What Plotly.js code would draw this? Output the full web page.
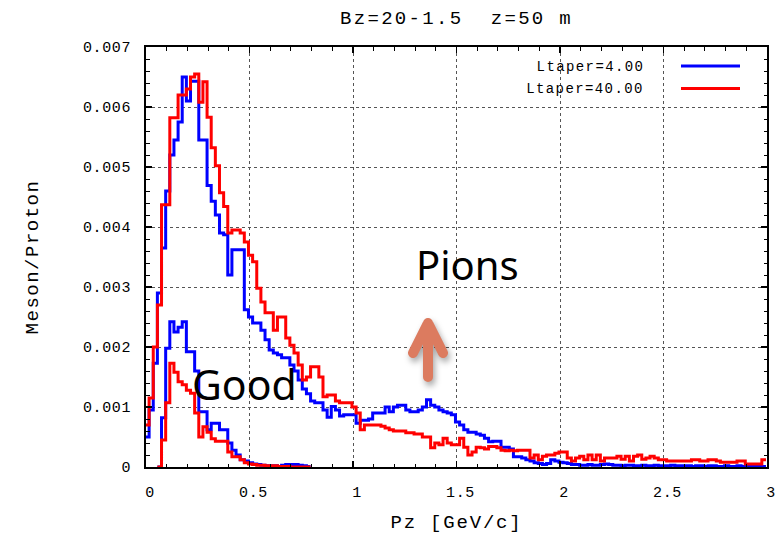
<!DOCTYPE html>
<html>
<head>
<meta charset="utf-8">
<script src="https://cdn.plot.ly/plotly-3.0.1.min.js"></script>
<style>
  html, body { margin: 0; padding: 0; background: #fff; }
  #chart { width: 780px; height: 538px; }
  /* wide, gnuplot-like monospace lettering */
  .xtick text, .ytick text { letter-spacing: 0.6px; }
  .gtitle { letter-spacing: 2.3px; }
  .xtitle { letter-spacing: 1.8px; }
  .ytitle { letter-spacing: 1.5px; }
  .annotation[data-index="0"] text, .annotation[data-index="1"] text { letter-spacing: 1.4px; }
  /* rounded, shadowed pointer arrow */
  .shapelayer path[data-index="2"] {
    stroke-linecap: round !important;
    stroke-linejoin: round !important;
    filter: drop-shadow(2px 4px 3px rgba(0,0,0,0.35));
  }
</style>
</head>
<body>
<div id="chart"></div>
<script>
// Histogram binning (Pz, GeV/c)
const BIN_START = -0.005;
const BIN_WIDTH = 0.02;

// Meson/Proton per bin, all mesons
const ltaper4_all = [
  0.0005, 0.00095, 0.00173, 0.0029, 0.00365, 0.0046, 0.0052, 0.00545, 0.00575, 0.0065,
  0.0061, 0.00643, 0.00643, 0.00545, 0.00545, 0.00469, 0.00443, 0.0042, 0.0039, 0.00387,
  0.0032, 0.00362, 0.00362, 0.00362, 0.00262, 0.0025, 0.0024, 0.0024, 0.00228, 0.00212,
  0.00195, 0.0019, 0.00187, 0.00182, 0.00182, 0.0017, 0.0016, 0.00145, 0.0013, 0.00122,
  0.0011, 0.00107, 0.00107, 0.00095, 0.00083, 0.00101, 0.00095, 0.00085, 0.00087, 0.00087,
  0.00087, 0.00073, 0.00078, 0.00078, 0.0008, 0.0009, 0.0009, 0.0009, 0.001, 0.00092,
  0.001, 0.00103, 0.00103, 0.00095, 0.00092, 0.00092, 0.00095, 0.001, 0.00112, 0.00103,
  0.001, 0.00095, 0.00092, 0.0009, 0.00087, 0.00075, 0.0007, 0.00062, 0.00058, 0.00058,
  0.00055, 0.00053, 0.00048, 0.00042, 0.00043, 0.00043, 0.00033, 0.00033, 0.0003, 0.00017,
  0.00017, 0.00015, 0.00012, 0.0001, 0.00007, 0.00006, 0.00004, 0.00006, 0.00012, 0.0001,
  0.00008, 0.00007, 0.00006, 0.00004, 0.00004, 0.00003, 0.00003, 0.00004, 0.00003, 0.00003,
  0.00004, 0.00005, 0.00004, 0.00003, 0.00003, 0.00002, 0.00003, 0.00003, 0.00002, 0.00002,
  0.00003, 0.00002, 0.00002, 0.00003, 0.00002, 0.00002, 0.00002, 0.00003, 0.00002, 0.00002,
  0.00002, 0.00002, 0.00001, 0.00002, 0.00002, 0.00001, 0.00002, 0.00002, 0.00001, 0.00001,
  0.00002, 0.00001, 0.00001, 0.00002, 0.00001, 0.00001, 0.00001, 0.00002, 0.00001, 0.00001
];

const ltaper40_all = [
  0.0007, 0.00115, 0.002, 0.0027, 0.00437, 0.00437, 0.00582, 0.00582, 0.0062, 0.0062,
  0.0063, 0.0065, 0.00655, 0.00608, 0.00642, 0.00583, 0.00532, 0.00502, 0.00457, 0.00434,
  0.0039, 0.00395, 0.00395, 0.0039, 0.00375, 0.00353, 0.00342, 0.00298, 0.00275, 0.00257,
  0.00257, 0.00228, 0.0025, 0.0025, 0.00215, 0.00203, 0.0019, 0.0017, 0.00145, 0.0015,
  0.00167, 0.00167, 0.0015, 0.00117, 0.0012, 0.0012, 0.0011, 0.00107, 0.00107, 0.00107,
  0.001, 0.0009, 0.00062, 0.0007, 0.0007, 0.0007, 0.0007, 0.00068, 0.00065, 0.00062,
  0.0006, 0.0006, 0.0006, 0.00057, 0.00057, 0.00055, 0.00055, 0.0005, 0.0005, 0.00032,
  0.0004, 0.00037, 0.00048, 0.0004, 0.00037, 0.00037, 0.00048, 0.00033, 0.0002, 0.00025,
  0.00033, 0.00032, 0.0003, 0.00034, 0.00034, 0.00032, 0.00028, 0.00027, 0.00028, 0.00027,
  0.00028, 0.00028, 0.00028, 0.00015, 0.0002, 0.00012, 0.00018, 0.0002, 0.0002, 0.00023,
  0.00025, 0.00025, 0.00015, 0.0001, 0.00015, 0.00018, 0.00012, 0.0002, 0.00012, 0.0002,
  0.0001, 0.00015, 0.00015, 0.00015, 0.00018, 0.00013, 0.00018, 0.0001, 0.00018, 0.0002,
  0.00013, 0.00015, 0.00018, 0.00015, 0.00012, 0.00012, 0.0001, 0.0001, 0.0001, 0.0001,
  0.0001, 0.0001, 0.00012, 0.00012, 0.0001, 0.0001, 0.00012, 0.00012, 0.0001, 0.00008,
  0.00008, 0.00008, 0.00008, 0.0001, 0.0001, 0.00005, 0.00005, 0.00005, 0.00005, 0.00012
];

// "Good" subset, low-momentum bins only (empty bins before the onset left blank)
const ltaper4_good = [
  null, null, null, 0, 0.00082, 0.00198, 0.00242, 0.00225, 0.00233, 0.00242,
  0.00192, 0.00192, 0.0016, 0.00092, 0.00092, 0.00062, 0.00073, 0.00073, 0.00062, 0.00062,
  0.0004, 0.00028, 0.0002, 0.00012, 0.0001, 0.00007, 0.00005, 0.00004, 0.00003, 0.00002,
  0.00002, 0.00002, 0.00001, 0.00003, 0.00004, 0.00004, 0.00004, 0.00003, 0.00002, 0.00001
];

const ltaper40_good = [
  null, null, null, 0, 0.00045, 0.00107, 0.00173, 0.00158, 0.00142, 0.00137,
  0.00128, 0.00123, 0.0009, 0.0005, 0.00067, 0.00058, 0.00047, 0.00043, 0.00043, 0.00043,
  0.00025, 0.00017, 0.00017, 0.00012, 0.00007, 0.00005, 0.00004, 0.00003, 0.00003, 0.00002,
  0.00002, 0.00002, 0.00001, 0.00001, 0.00001, 0, 0, 0, 0, 0
];

const seriesNames = ['Ltaper=4.00', 'Ltaper=40.00'];
const yTickVals = [0, 0.001, 0.002, 0.003, 0.004, 0.005, 0.006, 0.007];

const BLUE = '#0000ff';
const RED = '#ff0000';
const MONO = 'Liberation Mono, DejaVu Sans Mono, monospace';

// bin edges for a histogram with n bins
function binEdges(n) {
  const xs = [];
  for (let i = 0; i <= n; i++) xs.push(+(BIN_START + i * BIN_WIDTH).toFixed(4));
  return xs;
}
// repeat the last value so the final step reaches its right edge
function stepValues(vals) {
  return vals.concat([vals[vals.length - 1]]);
}
function histTrace(vals, color) {
  return {
    x: binEdges(vals.length),
    y: stepValues(vals),
    type: 'scatter',
    mode: 'lines',
    line: { shape: 'hv', color: color, width: 3 },
    connectgaps: false,
    hoverinfo: 'skip',
    showlegend: false
  };
}

const traces = [
  histTrace(ltaper4_all, BLUE),
  histTrace(ltaper4_good, BLUE),
  histTrace(ltaper40_all, RED),
  histTrace(ltaper40_good, RED)
];

// plot-area helpers (paper fractions)
const PL = 146, PW = 621, PT = 47, PH = 420;
const px = v => (v - PL) / PW;
const py = v => (PT + PH - v) / PH;

const axisCommon = {
  ticks: 'inside',
  ticklen: 6,
  tickwidth: 1.5,
  tickcolor: '#000',
  showline: true,
  linewidth: 2,
  linecolor: '#000',
  mirror: 'allticks',
  showgrid: true,
  gridcolor: '#555',
  griddash: 'dot',
  gridwidth: 1,
  zeroline: false,
  fixedrange: true,
  tickfont: { family: MONO, size: 15, color: '#000' }
};

const layout = {
  width: 780,
  height: 538,
  margin: { l: PL, r: 780 - PL - PW, t: PT, b: 538 - PT - PH },
  paper_bgcolor: '#fff',
  plot_bgcolor: '#fff',
  font: { family: MONO, color: '#000', size: 15 },
  showlegend: false,
  title: {
    text: 'Bz=20-1.5  z=50 m',
    font: { family: MONO, size: 19, color: '#000' },
    x: 0.5, xref: 'paper', xanchor: 'center',
    y: 1 - 17 / 538, yref: 'container', yanchor: 'middle'
  },
  xaxis: Object.assign({}, axisCommon, {
    range: [0, 3],
    tick0: 0,
    dtick: 0.5,
    ticklabelstandoff: 10,
    ticklabelshift: 4,
    minor: { dtick: 0.1, ticks: 'inside', ticklen: 3.5, tickwidth: 1, tickcolor: '#000', showgrid: false },
    title: { text: 'Pz [GeV/c]', font: { family: MONO, size: 19, color: '#000' }, standoff: 14 }
  }),
  yaxis: Object.assign({}, axisCommon, {
    range: [0, 0.007],
    tickmode: 'array',
    tickvals: yTickVals,
    tickformat: '.3~f',
    ticklabelstandoff: 10,
    minor: { dtick: 0.0002, ticks: 'inside', ticklen: 3.5, tickwidth: 1, tickcolor: '#000', showgrid: false },
    title: { text: 'Meson/Proton', font: { family: MONO, size: 19, color: '#000' }, standoff: 39 }
  }),
  annotations: [
    { text: seriesNames[0], xref: 'paper', yref: 'paper', x: px(646), y: py(67),
      xanchor: 'right', yanchor: 'middle', align: 'right', showarrow: false,
      font: { family: MONO, size: 14, color: '#000' } },
    { text: seriesNames[1], xref: 'paper', yref: 'paper', x: px(646), y: py(89),
      xanchor: 'right', yanchor: 'middle', align: 'right', showarrow: false,
      font: { family: MONO, size: 14, color: '#000' } },
    { text: 'Pions', xref: 'paper', yref: 'paper', x: px(467), y: py(264),
      xanchor: 'center', yanchor: 'middle', showarrow: false,
      font: { family: 'Noto Sans, sans-serif', size: 40, color: '#000' } },
    { text: 'Good', xref: 'paper', yref: 'paper', x: px(244), y: py(384),
      xanchor: 'center', yanchor: 'middle', showarrow: false,
      font: { family: 'Noto Sans, sans-serif', size: 41, color: '#000' } }
  ],
  shapes: [
    { type: 'line', xref: 'paper', yref: 'paper', x0: px(681), x1: px(740), y0: py(66), y1: py(66),
      line: { color: BLUE, width: 3 } },
    { type: 'line', xref: 'paper', yref: 'paper', x0: px(681), x1: px(740), y0: py(88.5), y1: py(88.5),
      line: { color: RED, width: 3 } },
    { type: 'path', xref: 'paper', yref: 'paper',
      path: 'M ' + px(428) + ',' + py(377) + ' L ' + px(428) + ',' + py(323) +
            ' M ' + px(413) + ',' + py(353) + ' L ' + px(428) + ',' + py(323) +
            ' L ' + px(443) + ',' + py(353),
      line: { color: '#DC7B5F', width: 10 } }
  ]
};

Plotly.newPlot('chart', traces, layout, { displayModeBar: false, staticPlot: true });
</script>
</body>
</html>
